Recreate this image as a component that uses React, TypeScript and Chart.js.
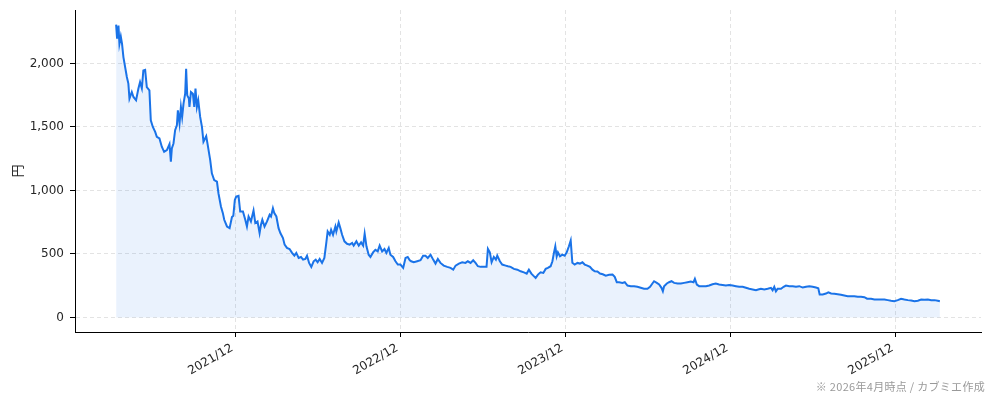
import { useEffect, useRef } from "react";
import { Chart, registerables } from "chart.js";

Chart.register(...registerables);

// x = months since 2021/01 (fractional), y = price in 円
const months = [
  2.34, 2.41, 2.51, 2.58, 2.68, 2.77, 2.87, 3.12, 3.23, 3.31, 3.48, 3.6, 3.79, 3.96, 4.08, 4.21, 4.32, 4.45, 4.57, 4.76,
  4.86, 5.01, 5.18, 5.3, 5.49, 5.66, 5.83, 6.03, 6.22, 6.32, 6.39, 6.51, 6.63, 6.76, 6.83, 6.95, 7.05, 7.14, 7.24, 7.36,
  7.43, 7.51, 7.63, 7.67, 7.78, 7.92, 8.02, 8.11, 8.21, 8.31, 8.45, 8.58, 8.69, 8.89, 8.98, 9.18, 9.3, 9.47, 9.67, 9.78,
  9.96, 10.1, 10.2, 10.4, 10.59, 10.76, 10.86, 10.97, 11.07, 11.24, 11.36, 11.56, 11.73, 11.85, 11.97, 12.14, 12.33, 12.46, 12.62, 12.77,
  12.87, 12.97, 13.13, 13.31, 13.5, 13.6, 13.74, 13.84, 13.99, 14.15, 14.28, 14.47, 14.59, 14.76, 14.95, 15.13, 15.3, 15.44, 15.61, 15.78,
  15.93, 16.1, 16.22, 16.37, 16.53, 16.7, 16.85, 16.99, 17.14, 17.31, 17.48, 17.62, 17.72, 17.87, 17.97, 18.11, 18.28, 18.35, 18.52, 18.64,
  18.77, 18.94, 19.13, 19.32, 19.5, 19.61, 19.81, 19.98, 20.15, 20.3, 20.41, 20.54, 20.7, 20.83, 21.02, 21.19, 21.36, 21.5, 21.68, 21.85,
  21.99, 22.16, 22.28, 22.48, 22.65, 22.82, 23.01, 23.21, 23.38, 23.54, 23.69, 23.79, 23.98, 24.23, 24.47, 24.66, 24.83, 25.0, 25.2, 25.39,
  25.56, 25.73, 25.92, 26.16, 26.41, 26.65, 26.85, 27.02, 27.26, 27.5, 27.74, 27.91, 28.11, 28.3, 28.47, 28.64, 28.84, 29.08, 29.27, 29.37,
  29.51, 29.64, 29.8, 29.95, 30.05, 30.24, 30.41, 30.66, 30.82, 31.02, 31.26, 31.51, 31.75, 31.99, 32.19, 32.35, 32.53, 32.67, 32.84, 33.01,
  33.2, 33.4, 33.57, 33.73, 33.93, 34.06, 34.17, 34.27, 34.37, 34.46, 34.61, 34.78, 34.95, 35.1, 35.26, 35.39, 35.51, 35.68, 35.88, 36.06,
  36.24, 36.41, 36.6, 36.79, 36.97, 37.14, 37.33, 37.52, 37.72, 37.94, 38.18, 38.43, 38.59, 38.74, 38.91, 39.15, 39.32, 39.52, 39.76, 40.0,
  40.24, 40.48, 40.72, 40.97, 41.16, 41.33, 41.45, 41.65, 41.82, 41.99, 42.09, 42.18, 42.38, 42.54, 42.72, 42.91, 43.16, 43.4, 43.64, 43.88,
  44.12, 44.32, 44.42, 44.56, 44.73, 44.98, 45.22, 45.46, 45.7, 45.94, 46.18, 46.43, 46.67, 46.91, 47.16, 47.4, 47.64, 47.89, 48.13, 48.37,
  48.62, 48.86, 49.02, 49.22, 49.46, 49.71, 49.95, 50.07, 50.19, 50.31, 50.43, 50.68, 50.87, 51.04, 51.28, 51.53, 51.77, 52.01, 52.26, 52.5,
  52.74, 52.98, 53.22, 53.39, 53.49, 53.71, 53.95, 54.12, 54.32, 54.56, 54.8, 55.04, 55.28, 55.53, 55.77, 56.01, 56.26, 56.5, 56.74, 56.94,
  57.23, 57.47, 57.72, 57.96, 58.2, 58.44, 58.68, 58.92, 59.17, 59.41, 59.65, 59.9, 60.14, 60.38, 60.63, 60.87, 61.11, 61.36, 61.6, 61.84,
  62.08, 62.23,
];

const prices = [
  2306, 2196, 2298, 2154, 2212, 2154, 2050, 1893, 1841, 1723, 1775, 1736, 1710, 1802, 1853, 1804, 1945, 1950, 1814, 1788,
  1553, 1500, 1461, 1422, 1409, 1344, 1304, 1318, 1365, 1226, 1331, 1370, 1475, 1514, 1631, 1527, 1657, 1579, 1684, 1762,
  1958, 1749, 1723, 1657, 1775, 1762, 1657, 1802, 1657, 1710, 1579, 1500, 1383, 1427, 1370, 1239, 1135, 1082, 1069, 978,
  873, 821, 769, 716, 703, 790, 800, 925, 951, 957, 834, 834, 769, 716, 795, 756, 842, 743, 756, 664,
  729, 769, 716, 756, 808, 795, 860, 821, 795, 703, 664, 625, 573, 547, 539, 508, 486, 508, 468, 476,
  455, 460, 486, 429, 398, 442, 455, 434, 460, 429, 468, 586, 677, 651, 690, 651, 716, 677, 747, 703,
  651, 599, 580, 573, 586, 565, 599, 565, 591, 565, 659, 560, 494, 476, 512, 533, 520, 565, 520, 539,
  508, 547, 494, 476, 442, 416, 416, 390, 468, 476, 450, 442, 434, 442, 450, 486, 486, 468, 494, 455,
  424, 460, 429, 408, 398, 390, 376, 408, 424, 434, 429, 442, 429, 450, 429, 403, 398, 398, 398, 539,
  512, 434, 476, 455, 486, 442, 416, 408, 403, 398, 382, 376, 363, 355, 345, 376, 345, 329, 311, 337,
  355, 350, 382, 390, 403, 442, 508, 560, 481, 512, 481, 494, 486, 512, 560, 605, 430, 416, 429, 424,
  434, 416, 408, 398, 376, 363, 361, 345, 340, 329, 335, 337, 319, 277, 277, 272, 277, 251, 246, 246,
  241, 233, 225, 225, 241, 267, 285, 272, 259, 233, 206, 246, 267, 277, 285, 272, 267, 267, 272, 277,
  282, 277, 304, 259, 246, 246, 246, 251, 261, 267, 259, 256, 251, 256, 251, 246, 241, 241, 233, 225,
  220, 214, 220, 225, 220, 225, 233, 214, 241, 206, 225, 225, 241, 251, 246, 246, 241, 246, 235, 241,
  246, 241, 235, 230, 180, 180, 188, 198, 188, 186, 183, 178, 173, 167, 167, 167, 162, 162, 159, 147,
  147, 141, 141, 141, 141, 136, 131, 128, 136, 147, 141, 136, 133, 128, 131, 141, 139, 141, 136, 136,
  131, 128,
];

const xTickMonths = [11, 23, 35, 47, 59];
const xTickLabels = ["2021/12", "2022/12", "2023/12", "2024/12", "2025/12"];
const yTicks = [0, 500, 1000, 1500, 2000];
const yTitle = "円";
const footnote = "※ 2026年4月時点 / カブミエ作成";

export default function App() {
  const ref = useRef<HTMLCanvasElement>(null);

  useEffect(() => {
    const tickFont = { family: "'DejaVu Sans', sans-serif", size: 12 };
    const titleFont = { family: "'Noto Sans CJK JP', sans-serif", size: 13 };
    const gridCommon = {
      color: "#e3e3e3",
      lineWidth: 1,
      tickColor: "#000",
      tickLength: 5,
      tickWidth: 1,
      tickBorderDash: [] as number[],
    };
    const chart = new Chart(ref.current!, {
      type: "line",
      data: {
        datasets: [
          {
            data: months.map((m, i) => ({ x: m, y: prices[i] })),
            borderColor: "#1a73e8",
            borderWidth: 2,
            backgroundColor: "rgba(26,115,232,0.09)",
            fill: "origin",
            pointRadius: 0,
            tension: 0,
          },
        ],
      },
      options: {
        animation: false,
        responsive: false,
        maintainAspectRatio: false,
        layout: { padding: { top: 10, right: 13, left: 0, bottom: 0 } },
        plugins: { legend: { display: false }, tooltip: { enabled: false } },
        scales: {
          x: {
            type: "linear",
            min: -0.65,
            max: 65.22,
            afterBuildTicks: (s: any) => {
              s.ticks = xTickMonths.map((v) => ({ value: v }));
            },
            afterFit: (s: any) => {
              s.height = 69;
              s.paddingLeft = 0;
              s.paddingRight = 0;
            },
            ticks: {
              callback: (_v: any, i: number) => xTickLabels[i],
              maxRotation: 30,
              minRotation: 30,
              autoSkip: false,
              font: tickFont,
              color: "#262626",
              padding: 4,
              labelOffset: -3,
            },
            grid: gridCommon,
            border: { display: true, color: "#000", width: 1, dash: [4, 3] },
          },
          y: {
            type: "linear",
            min: -115,
            max: 2421,
            afterBuildTicks: (s: any) => {
              s.ticks = yTicks.map((v) => ({ value: v }));
            },
            afterFit: (s: any) => {
              s.width = 75;
              s.paddingTop = 0;
              s.paddingBottom = 0;
            },
            ticks: {
              callback: (v: any) => Number(v).toLocaleString("en-US"),
              font: tickFont,
              color: "#262626",
              padding: 6,
            },
            grid: gridCommon,
            border: { display: true, color: "#000", width: 1, dash: [4, 3] },
            title: {
              display: true,
              text: yTitle,
              font: titleFont,
              color: "#262626",
              padding: { top: 9, bottom: 0 },
            },
          },
        },
      },
    } as any);
    return () => chart.destroy();
  }, []);

  return (
    <div style={{ position: "absolute", left: 0, top: 0, width: 994, height: 401, background: "#fff" }}>
      <canvas ref={ref} width={994} height={401} style={{ display: "block" }} />
      <div
        style={{
          position: "absolute",
          right: 9,
          top: 379,
          fontFamily: "'Noto Sans CJK JP', sans-serif",
          fontSize: 11,
          lineHeight: "14px",
          letterSpacing: "0.3px",
          color: "#999",
          whiteSpace: "nowrap",
        }}
      >
        {footnote}
      </div>
    </div>
  );
}
